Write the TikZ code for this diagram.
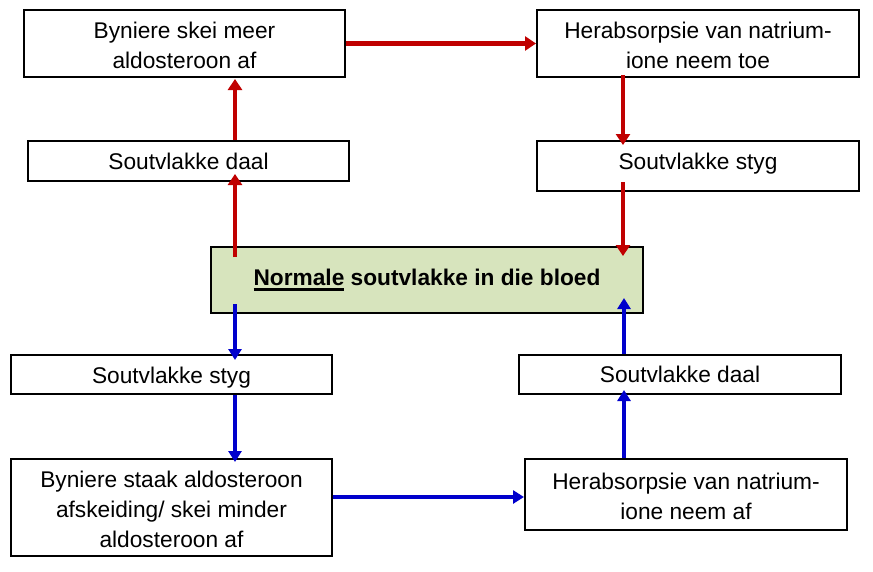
\documentclass[tikz,border=0pt]{standalone}
\usepackage{fontspec}
\setmainfont{Liberation Sans}
\usetikzlibrary{arrows.meta,calc}
\definecolor{ared}{HTML}{C00000}
\definecolor{ablue}{HTML}{0000CC}
\definecolor{cgreen}{HTML}{D7E4BD}
\newcommand\myul[1]{\setbox0\hbox{#1}\rlap{\rule[-6pt]{\wd0}{3pt}}\box0\relax}
\newcommand\topstrut{\rule{0pt}{21pt}}
\begin{document}
\begin{tikzpicture}[x=1pt,y=-1pt,
  box/.style={draw=black, line width=2pt, fill=white, inner sep=0pt, align=center,
    font=\fontsize{22.7}{30}\selectfont},
  redarr/.style={draw=ared, line width=4.5pt, -{Triangle[width=14pt,length=11pt]}},
  bluearr/.style={draw=ablue, line width=4pt, -{Triangle[width=13pt,length=11pt]}}]
\useasboundingbox (0,0) rectangle (873,571);
\node[box, minimum width=321pt, minimum height=67pt] (B1) at (184.5,43.5) {\topstrut Byniere skei meer\\aldosteroon af};
\node[box, minimum width=322pt, minimum height=67pt] (B2) at (698,43.5) {\topstrut Herabsorpsie van natrium-\\ione neem toe};
\node[box, minimum width=321pt, minimum height=40pt] (B3) at (188.5,161) {Soutvlakke daal};
\node[box, minimum width=322pt, minimum height=50pt] (B4) at (698,166) {\raisebox{10pt}{Soutvlakke styg}};
\node[box, fill=cgreen, minimum width=432pt, minimum height=66pt] (C) at (427,280) {\textbf{\myul{Normale} soutvlakke in die bloed}};
\node[box, minimum width=321pt, minimum height=39pt] (B6) at (171.5,374.5) {\rule{0pt}{23pt}Soutvlakke styg};
\node[box, minimum width=322pt, minimum height=39pt] (B7) at (680,374.5) {Soutvlakke daal};
\node[box, minimum width=321pt, minimum height=97pt] (B8) at (171.5,507.5) {\topstrut Byniere staak aldosteroon\\afskeiding/ skei minder\\aldosteroon af};
\node[box, minimum width=322pt, minimum height=71pt] (B9) at (686,494.5) {\topstrut Herabsorpsie van natrium-\\ione neem af};
% red loop
\draw[redarr] ($(C.north west)+(25,11)$) -- ($(C.north west |- B3.south)+(25,-8)$);
\draw[redarr] ($(C.north west |- B3.north)+(25,0)$) -- ($(C.north west |- B1.south)+(25,1)$);
\draw[redarr] (B1.east) -- (B2.west);
\draw[redarr] ($(B2.south west)+(87,-3)$) -- ($(B2.south west |- B4.north)+(87,5)$);
\draw[redarr] ($(B4.south west)+(87,-10)$) -- ($(B4.south west |- C.north)+(87,10)$);
% blue loop
\draw[bluearr] ($(C.south west)+(25,-10)$) -- ($(C.south west |- B6.north)+(25,6)$);
\draw[bluearr] ($(C.south west |- B6.south)+(25,0)$) -- ($(C.south west |- B8.north)+(25,4)$);
\draw[bluearr] ($(B8.east)+(0,-10.5)$) -- ($(B8.east -| B9.west)+(0,-10.5)$);
\draw[bluearr] ($(B9.north west)+(100,0)$) -- ($(B9.north west |- B7.south)+(100,-5)$);
\draw[bluearr] ($(B9.north west |- B7.north)+(100,0)$) -- ($(B9.north west |- C.south)+(100,-16)$);
\end{tikzpicture}
\end{document}
